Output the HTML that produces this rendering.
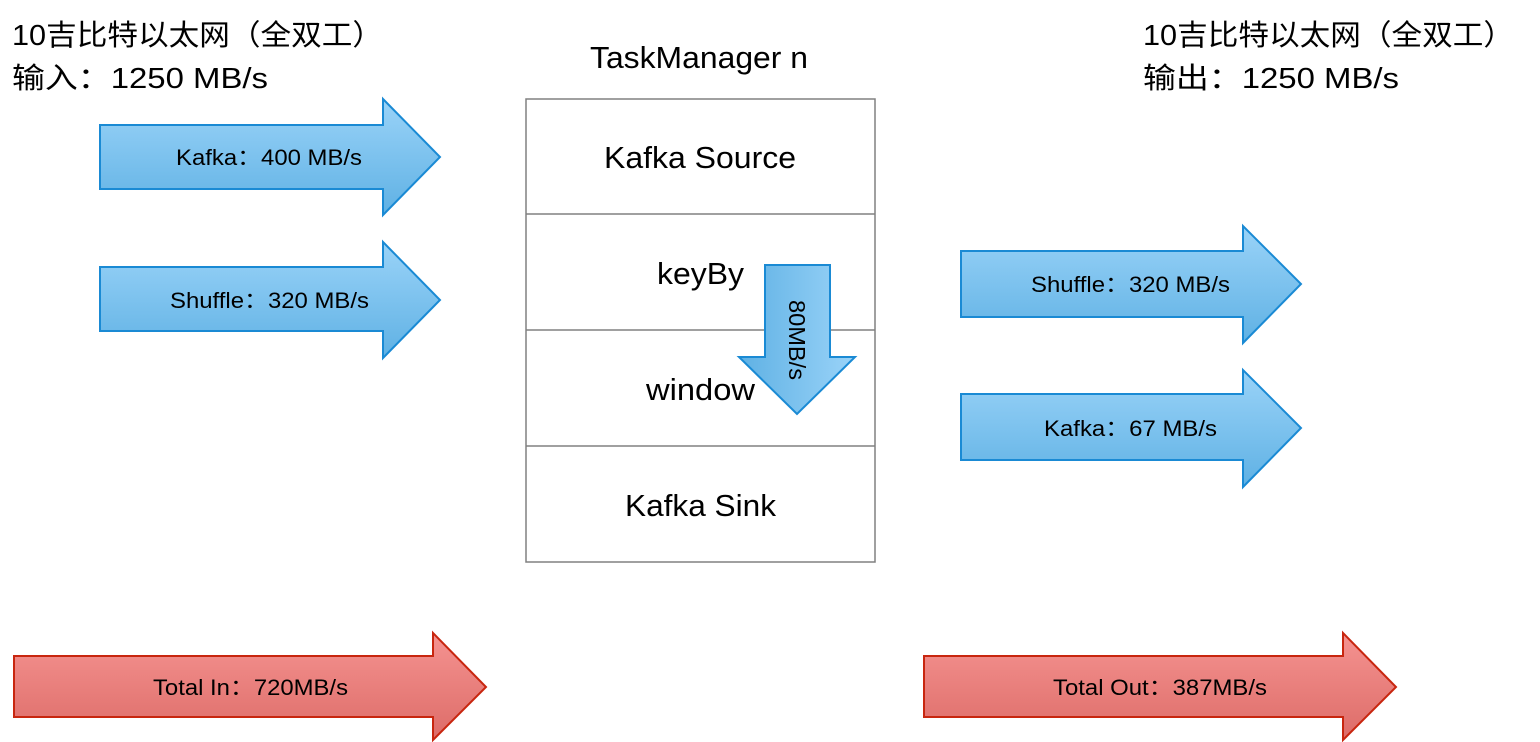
<!DOCTYPE html>
<html><head><meta charset="utf-8"><style>
html,body{margin:0;padding:0;background:#fff;}
svg{display:block;}
text{font-family:"Liberation Sans","Noto Sans CJK SC",sans-serif;fill:#000;}
</style></head><body>
<svg width="1540" height="742" viewBox="0 0 1540 742" xmlns="http://www.w3.org/2000/svg">
<defs>
<linearGradient id="bl" x1="0" y1="0" x2="0" y2="1">
<stop offset="0" stop-color="#9ad3f8"/><stop offset="1" stop-color="#5fb1e4"/>
</linearGradient>
<linearGradient id="bd" x1="1" y1="0" x2="0" y2="0">
<stop offset="0" stop-color="#9ad3f8"/><stop offset="1" stop-color="#5fb1e4"/>
</linearGradient>
<linearGradient id="rd" x1="0" y1="0" x2="0" y2="1">
<stop offset="0" stop-color="#f59391"/><stop offset="1" stop-color="#dd6c68"/>
</linearGradient>
</defs>

<text x="12" y="45" font-size="29" textLength="371" lengthAdjust="spacingAndGlyphs">10吉比特以太网（全双工）</text>
<text x="12" y="88" font-size="29" textLength="256" lengthAdjust="spacingAndGlyphs">输入：1250 MB/s</text>
<text x="1143" y="45" font-size="29" textLength="371" lengthAdjust="spacingAndGlyphs">10吉比特以太网（全双工）</text>
<text x="1143" y="88" font-size="29" textLength="256" lengthAdjust="spacingAndGlyphs">输出：1250 MB/s</text>

<text x="590" y="68" font-size="31" textLength="218" lengthAdjust="spacingAndGlyphs">TaskManager n</text>

<g fill="#fff" stroke="#808080" stroke-width="1.5">
<rect x="526" y="99" width="349" height="463"/>
<line x1="526" y1="214" x2="875" y2="214"/>
<line x1="526" y1="330" x2="875" y2="330"/>
<line x1="526" y1="446" x2="875" y2="446"/>
</g>
<text x="604" y="168" font-size="31" textLength="192" lengthAdjust="spacingAndGlyphs">Kafka Source</text>
<text x="657" y="284" font-size="31" textLength="87" lengthAdjust="spacingAndGlyphs">keyBy</text>
<text x="646" y="400" font-size="31" textLength="109" lengthAdjust="spacingAndGlyphs">window</text>
<text x="625" y="516" font-size="31" textLength="151" lengthAdjust="spacingAndGlyphs">Kafka Sink</text>

<g stroke="#1a8ad4" stroke-width="2" fill="url(#bl)">
<polygon points="100,125 383,125 383,99 440,157 383,215 383,189 100,189"/>
<polygon points="100,267 383,267 383,242 440,300 383,358 383,331 100,331"/>
<polygon points="961,251 1243,251 1243,226 1301,284 1243,343 1243,317 961,317"/>
<polygon points="961,394 1243,394 1243,370 1301,428 1243,487 1243,460 961,460"/>
<polygon fill="url(#bd)" points="765,265 830,265 830,357 855,357 797,414 739,357 765,357"/>
</g>
<text x="176" y="165" font-size="22" textLength="186" lengthAdjust="spacingAndGlyphs">Kafka：400 MB/s</text>
<text x="170" y="308" font-size="22" textLength="199" lengthAdjust="spacingAndGlyphs">Shuffle：320 MB/s</text>
<text x="1031" y="292" font-size="22" textLength="199" lengthAdjust="spacingAndGlyphs">Shuffle：320 MB/s</text>
<text x="1044" y="436" font-size="22" textLength="173" lengthAdjust="spacingAndGlyphs">Kafka：67 MB/s</text>
<text x="0" y="0" font-size="23" textLength="80" lengthAdjust="spacingAndGlyphs" transform="translate(789,300) rotate(90)">80MB/s</text>

<g stroke="#c8260f" stroke-width="2" fill="url(#rd)">
<polygon points="14,656 433,656 433,633 486,687 433,740 433,717 14,717"/>
<polygon points="924,656 1343,656 1343,633 1396,687 1343,740 1343,717 924,717"/>
</g>
<text x="153" y="695" font-size="22" textLength="195" lengthAdjust="spacingAndGlyphs">Total In：720MB/s</text>
<text x="1053" y="695" font-size="22" textLength="214" lengthAdjust="spacingAndGlyphs">Total Out：387MB/s</text>
</svg>
</body></html>
